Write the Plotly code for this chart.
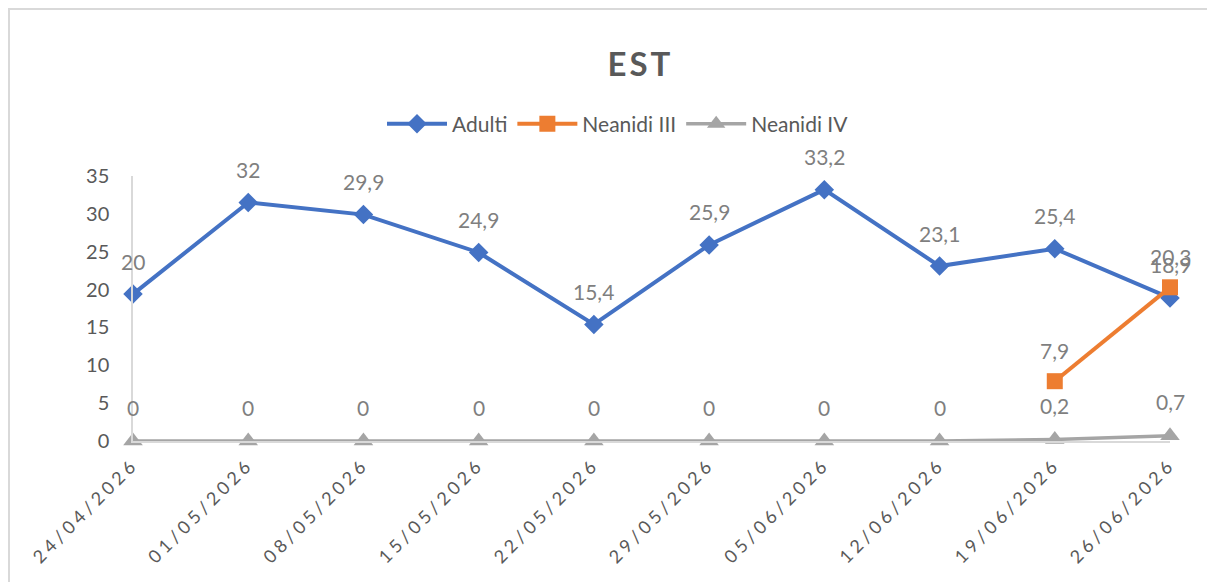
import plotly.graph_objects as go

dates = ["24/04/2026", "01/05/2026", "08/05/2026", "15/05/2026", "22/05/2026",
         "29/05/2026", "05/06/2026", "12/06/2026", "19/06/2026", "26/06/2026"]
adulti = [19.4, 31.5, 29.9, 24.9, 15.4, 25.9, 33.2, 23.1, 25.4, 18.9]
adulti_labels = ["20", "32", "29,9", "24,9", "15,4", "25,9", "33,2", "23,1", "25,4", "18,9"]
neanidi_iii = [None, None, None, None, None, None, None, None, 7.9, 20.3]
neanidi_iv = [0, 0, 0, 0, 0, 0, 0, 0, 0.2, 0.7]

def fmt(v):
    s = f"{v:g}"
    return s.replace(".", ",")

BLUE = "#4472C4"
ORANGE = "#ED7D31"
GRAY = "#A5A5A5"
TXT = "#595959"
LBL = "#7F7F7F"
FONT = "Lato, Calibri, sans-serif"

x = list(range(len(dates)))

fig = go.Figure()
fig.add_trace(go.Scatter(x=x, y=adulti, name="Adulti", mode="lines+markers",
                         line=dict(color=BLUE, width=4),
                         marker=dict(symbol="diamond", size=15, color=BLUE),
                         cliponaxis=False))
fig.add_trace(go.Scatter(x=x, y=neanidi_iii, name="Neanidi III", mode="lines+markers",
                         line=dict(color=ORANGE, width=4),
                         marker=dict(symbol="square", size=16, color=ORANGE),
                         cliponaxis=False, connectgaps=False))
fig.add_trace(go.Scatter(x=x, y=neanidi_iv, name="Neanidi IV", mode="lines+markers",
                         line=dict(color=GRAY, width=3.5),
                         marker=dict(symbol="triangle-up", size=17, color=GRAY),
                         cliponaxis=False))

LBLFONT = dict(size=21, color=LBL, family=FONT)
annotations = []
for i, v in enumerate(adulti):
    annotations.append(dict(x=x[i], y=v, text=adulti_labels[i], showarrow=False,
                            yshift=33, font=LBLFONT))
for i, v in enumerate(neanidi_iii):
    if v is not None:
        annotations.append(dict(x=x[i], y=v, text=fmt(v), showarrow=False,
                                yshift=31, font=LBLFONT))
for i, v in enumerate(neanidi_iv):
    annotations.append(dict(x=x[i], y=v, text=fmt(v), showarrow=False,
                            yshift=34, font=LBLFONT))

annotations.append(dict(x=(640 - 133) / 1037, y=(441 - 63) / 265, xref="paper", yref="paper",
                        xanchor="center", yanchor="middle",
                        text="<b>EST</b>", showarrow=False,
                        font=dict(size=33, color=TXT, family=FONT)))

fig.update_layout(
    width=1207, height=582,
    margin=dict(l=133, r=37, t=176, b=141),
    paper_bgcolor="white", plot_bgcolor="white",
    font=dict(family=FONT, color=TXT),
    showlegend=True,
    legend=dict(orientation="h", x=(618 - 133) / 1037, y=(441 - 124) / 265,
                xanchor="center", yanchor="middle",
                font=dict(size=21, color=TXT, family=FONT),
                itemwidth=60, traceorder="normal"),
    annotations=annotations,
    shapes=[dict(type="rect", xref="paper", yref="paper",
                 x0=(9 - 133) / 1037, x1=(1215 - 133) / 1037,
                 y0=(441 - 590) / 265, y1=(441 - 9) / 265,
                 line=dict(color="#D9D9D9", width=2), layer="below")],
)
fig.update_xaxes(range=[0, 9], tickmode="array", tickvals=x, ticktext=dates,
                 tickangle=-45, tickfont=dict(size=18, color=TXT, family=FONT),
                 showgrid=False, zeroline=False, showline=True, linecolor="#D9D9D9",
                 linewidth=1.5, ticks="", ticklabelstandoff=4)
fig.update_yaxes(range=[0, 35], dtick=5, tickfont=dict(size=20, color=TXT, family=FONT),
                 showgrid=False, zeroline=False, showline=True, linecolor="#D9D9D9",
                 linewidth=1.5, ticks="", ticklabelstandoff=18)

post = """
document.body.style.margin = '0';
document.querySelectorAll('.xtick text').forEach(function(t){ t.style.letterSpacing = '4px'; });
document.querySelectorAll('.annotation-text').forEach(function(t){
  if (t.textContent === 'EST') { t.style.letterSpacing = '3px'; }
});
"""

fig.write_html("out.html", post_script=post, config={"displayModeBar": False})
